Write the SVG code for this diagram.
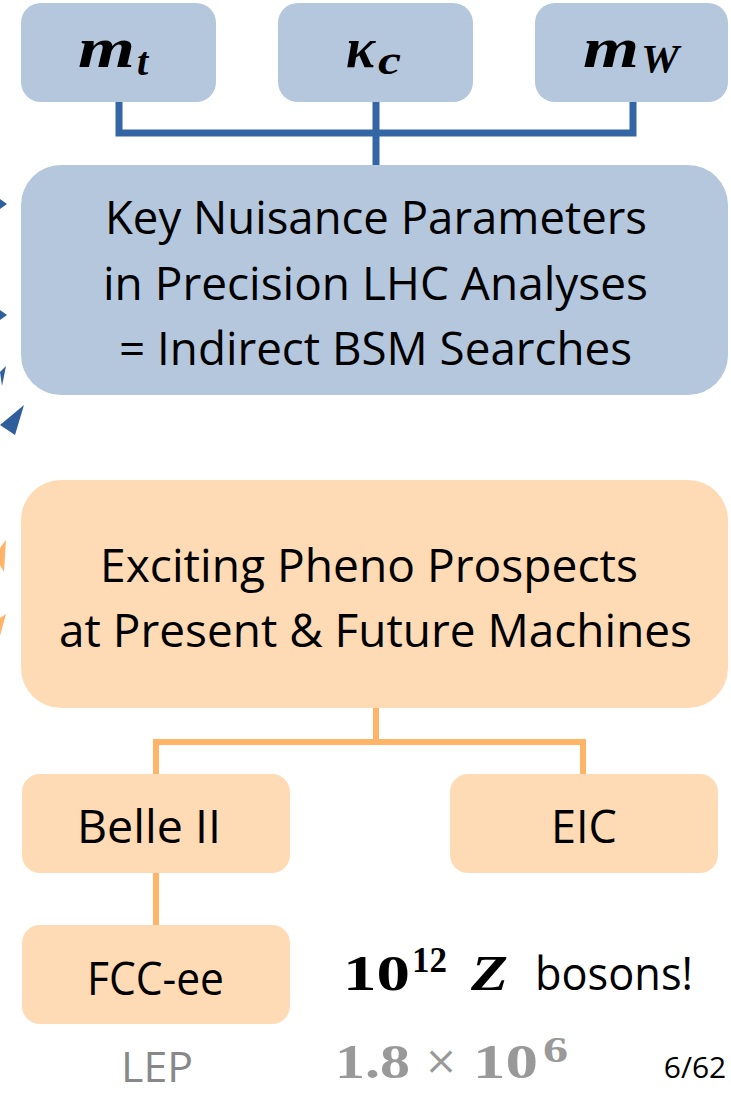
<svg xmlns="http://www.w3.org/2000/svg" width="731" height="1096" viewBox="0 0 731 1096">
<style>
.bbox{fill:#b4c7dd}
.obox{fill:#ffdbb5}
.lbl{font-family:"Open Sans","Noto Sans",sans-serif;font-size:45px;fill:#000;text-anchor:middle}
.math{font-family:"Liberation Serif","DejaVu Serif",serif;font-weight:bold;font-style:italic;fill:#000}
.mathup{font-family:"Liberation Serif","DejaVu Serif",serif;font-weight:bold;fill:#000}
.gray{fill:#999}
.bl{fill:none;stroke:#3466a5;stroke-width:7}
.ol{fill:none;stroke:#ffb468;stroke-width:6}
.bh{fill:#2e5f9b}
.oh{fill:#ffb468}
</style>
<rect width="731" height="1096" fill="#fff"/>
<g id="connectors">
<path class="bl" d="M119,100 V133 H633 V100 M376,100 V167"/>
<path class="ol" d="M376,706 V742 M156,776 V742 H583 V776 M156,871 V927"/>
<polygon class="bh" points="0,199 7,204 0,209"/>
<polygon class="bh" points="0,310 7,315 0,320"/>
<polygon class="bh" points="0,372 6,366 2,386"/>
<polygon class="bh" points="0,425 24,405 15,435"/>
<polygon class="oh" points="0,548 6,540 4,572 0,565"/>
<polygon class="oh" points="0,618 6,614 0,636"/>
</g>
<g id="node-mt">
<rect class="bbox" x="21" y="3" width="195" height="99" rx="20"/>
<text class="math" x="78" y="67" font-size="58" textLength="57" lengthAdjust="spacingAndGlyphs">m</text>
<text class="math" x="137" y="75" font-size="40">t</text>
</g>
<g id="node-kc">
<rect class="bbox" x="278" y="3" width="195" height="99" rx="20"/>
<text class="math" x="346" y="67" font-size="58" textLength="29" lengthAdjust="spacingAndGlyphs">κ</text>
<text class="math" x="378" y="74" font-size="42" textLength="23" lengthAdjust="spacingAndGlyphs">c</text>
</g>
<g id="node-mw">
<rect class="bbox" x="535" y="3" width="193" height="99" rx="20"/>
<text class="math" x="583" y="67" font-size="58" textLength="56" lengthAdjust="spacingAndGlyphs">m</text>
<text class="math" x="641" y="72" font-size="40" textLength="38" lengthAdjust="spacingAndGlyphs">W</text>
</g>
<g id="node-key">
<rect class="bbox" x="21" y="165" width="707" height="230" rx="40"/>
<text class="lbl" x="376" y="234" textLength="542" lengthAdjust="spacingAndGlyphs">Key Nuisance Parameters</text>
<text class="lbl" x="375.5" y="300" textLength="545" lengthAdjust="spacingAndGlyphs">in Precision LHC Analyses</text>
<text class="lbl" x="375.5" y="365" textLength="513" lengthAdjust="spacingAndGlyphs">= Indirect BSM Searches</text>
</g>
<g id="node-pheno">
<rect class="obox" x="21" y="480" width="707" height="228" rx="40"/>
<text class="lbl" x="369" y="582" textLength="538" lengthAdjust="spacingAndGlyphs">Exciting Pheno Prospects</text>
<text class="lbl" x="375.5" y="647" textLength="633" lengthAdjust="spacingAndGlyphs">at Present &amp; Future Machines</text>
</g>
<g id="node-belle">
<rect class="obox" x="22" y="774" width="268" height="99" rx="18"/>
<text class="lbl" x="149" y="843" textLength="144" lengthAdjust="spacingAndGlyphs">Belle II</text>
</g>
<g id="node-eic">
<rect class="obox" x="450" y="774" width="268" height="99" rx="18"/>
<text class="lbl" x="584" y="843">EIC</text>
</g>
<g id="node-fcc">
<rect class="obox" x="22" y="925" width="268" height="99" rx="18"/>
<text class="lbl" x="155.5" y="995" textLength="137" lengthAdjust="spacingAndGlyphs">FCC-ee</text>
</g>
<g id="label-zbosons">
<text class="mathup" x="343" y="990" font-size="50" textLength="67" lengthAdjust="spacingAndGlyphs">10</text>
<text class="mathup" x="412" y="972" font-size="36" textLength="35" lengthAdjust="spacingAndGlyphs">12</text>
<text class="math" x="471" y="990" font-size="50" textLength="37" lengthAdjust="spacingAndGlyphs">Z</text>
<text class="lbl" x="614" y="990" textLength="158" lengthAdjust="spacingAndGlyphs">bosons!</text>
</g>
<g id="label-lep">
<text class="lbl" x="157" y="1082" font-size="42" style="fill:#888;font-size:42px" textLength="72" lengthAdjust="spacingAndGlyphs">LEP</text>
<text class="mathup gray" x="335" y="1078" font-size="48" textLength="75" lengthAdjust="spacingAndGlyphs">1.8</text>
<text class="gray" x="441" y="1074" font-family="DejaVu Serif, serif" font-size="40" text-anchor="middle">×</text>
<text class="mathup gray" x="473" y="1078" font-size="48" textLength="65" lengthAdjust="spacingAndGlyphs">10</text>
<text class="mathup gray" x="543" y="1062" font-size="36" textLength="25" lengthAdjust="spacingAndGlyphs">6</text>
</g>
<text x="695" y="1078" font-family="Open Sans, Noto Sans, sans-serif" font-size="30" text-anchor="middle" fill="#000">6/62</text>
</svg>
